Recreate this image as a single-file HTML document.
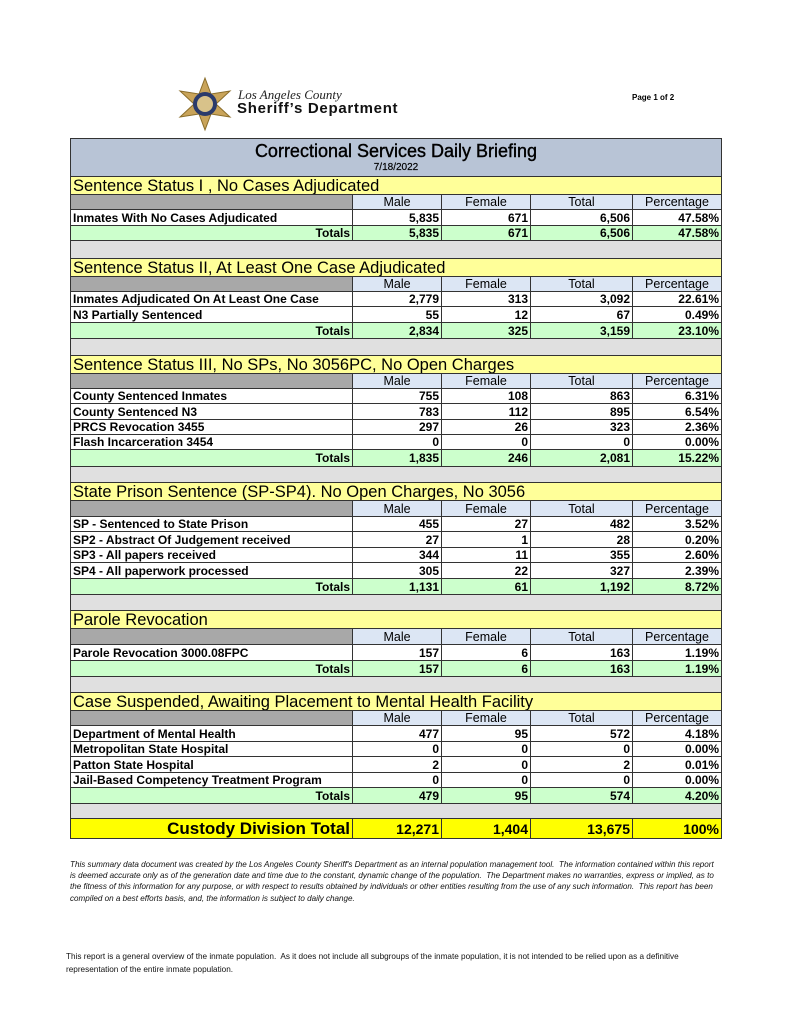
<!DOCTYPE html>
<html><head><meta charset="utf-8"><style>
body{margin:0;width:791px;height:1024px;background:#fff;position:relative;font-family:"Liberation Sans",Arial,sans-serif;overflow:hidden}
table{position:absolute;left:70px;top:138px;width:651px;border-collapse:collapse;table-layout:fixed}
td{border:1px solid #333;padding:0 2px;font-size:12px;font-weight:bold;line-height:12px;white-space:nowrap;overflow:hidden}
td.n{text-align:right}
tr.title td{background:#b8c4d6;text-align:center;font-weight:normal;vertical-align:top}
tr.sec td{background:#ffff99;font-size:16.5px;font-weight:normal;line-height:16px;border-bottom:none}
tr.hdr td{background:#dce6f4;text-align:center;font-weight:normal;font-size:12.5px}
tr.hdr td.g{background:#a8a8a8}
tr.tot td{background:#ccffcc;text-align:right}
tr.sp td{background:#e0e0e0}
tr.cust td{background:#ffff00;text-align:right;font-size:14px}
tr.cust td.big{font-size:17px}
</style></head><body>
<svg style="position:absolute;left:172px;top:76px" width="66" height="56" viewBox="0 0 66 56">
<polygon points="33,2 39,18 58,15 44,28 58,41 39,38 33,54 27,38 8,41 22,28 8,15 27,18" fill="#c9a45a" stroke="#8a6d2a"/>
<circle cx="33" cy="28" r="12" fill="#2b3b6b"/><circle cx="33" cy="28" r="8" fill="#d8c28a"/>
</svg>
<div style="position:absolute;left:238px;top:87px;font-family:'Liberation Serif',serif;font-style:italic;font-size:13px;color:#222">Los Angeles County</div>
<div style="position:absolute;left:237px;top:100px;font-weight:bold;font-size:15px;letter-spacing:0.7px;color:#111">Sheriff’s Department</div>
<div style="position:absolute;left:632px;top:93px;font-size:8px;font-weight:bold">Page 1 of 2</div>
<table>
<col style="width:282px"><col style="width:89px"><col style="width:89px"><col style="width:102px"><col style="width:89px">
<tr class="title" style="height:38px"><td colspan="5"><div style="font-size:18px;margin-top:2px;line-height:20px;-webkit-text-stroke:0.4px #000">Correctional Services Daily Briefing</div><div style="font-size:10px;line-height:13px;-webkit-text-stroke:0.2px #000">7/18/2022</div></td></tr>

<tr class="sec" style="height:18px"><td colspan="5">Sentence Status I , No Cases Adjudicated</td></tr>
<tr class="hdr" style="height:15px"><td class="g"></td><td>Male</td><td>Female</td><td>Total</td><td>Percentage</td></tr>
<tr style="height:16px"><td>Inmates With No Cases Adjudicated</td><td class="n">5,835</td><td class="n">671</td><td class="n">6,506</td><td class="n">47.58%</td></tr>
<tr class="tot" style="height:15px"><td>Totals</td><td>5,835</td><td>671</td><td>6,506</td><td>47.58%</td></tr>
<tr class="sp" style="height:18px"><td colspan="5"></td></tr>

<tr class="sec" style="height:18px"><td colspan="5">Sentence Status II, At Least One Case Adjudicated</td></tr>
<tr class="hdr" style="height:15px"><td class="g"></td><td>Male</td><td>Female</td><td>Total</td><td>Percentage</td></tr>
<tr style="height:15px"><td>Inmates Adjudicated On At Least One Case</td><td class="n">2,779</td><td class="n">313</td><td class="n">3,092</td><td class="n">22.61%</td></tr>
<tr style="height:16px"><td>N3 Partially Sentenced</td><td class="n">55</td><td class="n">12</td><td class="n">67</td><td class="n">0.49%</td></tr>
<tr class="tot" style="height:16px"><td>Totals</td><td>2,834</td><td>325</td><td>3,159</td><td>23.10%</td></tr>
<tr class="sp" style="height:17px"><td colspan="5"></td></tr>

<tr class="sec" style="height:18px"><td colspan="5">Sentence Status III, No SPs, No 3056PC, No Open Charges</td></tr>
<tr class="hdr" style="height:15px"><td class="g"></td><td>Male</td><td>Female</td><td>Total</td><td>Percentage</td></tr>
<tr style="height:15px"><td>County Sentenced Inmates</td><td class="n">755</td><td class="n">108</td><td class="n">863</td><td class="n">6.31%</td></tr>
<tr style="height:16px"><td>County Sentenced N3</td><td class="n">783</td><td class="n">112</td><td class="n">895</td><td class="n">6.54%</td></tr>
<tr style="height:15px"><td>PRCS Revocation 3455</td><td class="n">297</td><td class="n">26</td><td class="n">323</td><td class="n">2.36%</td></tr>
<tr style="height:15px"><td>Flash Incarceration 3454</td><td class="n">0</td><td class="n">0</td><td class="n">0</td><td class="n">0.00%</td></tr>
<tr class="tot" style="height:17px"><td>Totals</td><td>1,835</td><td>246</td><td>2,081</td><td>15.22%</td></tr>
<tr class="sp" style="height:16px"><td colspan="5"></td></tr>

<tr class="sec" style="height:18px"><td colspan="5">State Prison Sentence (SP-SP4). No Open Charges, No 3056</td></tr>
<tr class="hdr" style="height:16px"><td class="g"></td><td>Male</td><td>Female</td><td>Total</td><td>Percentage</td></tr>
<tr style="height:15px"><td>SP - Sentenced to State Prison</td><td class="n">455</td><td class="n">27</td><td class="n">482</td><td class="n">3.52%</td></tr>
<tr style="height:16px"><td>SP2 - Abstract Of Judgement received</td><td class="n">27</td><td class="n">1</td><td class="n">28</td><td class="n">0.20%</td></tr>
<tr style="height:15px"><td>SP3 - All papers received</td><td class="n">344</td><td class="n">11</td><td class="n">355</td><td class="n">2.60%</td></tr>
<tr style="height:16px"><td>SP4 - All paperwork processed</td><td class="n">305</td><td class="n">22</td><td class="n">327</td><td class="n">2.39%</td></tr>
<tr class="tot" style="height:16px"><td>Totals</td><td>1,131</td><td>61</td><td>1,192</td><td>8.72%</td></tr>
<tr class="sp" style="height:16px"><td colspan="5"></td></tr>

<tr class="sec" style="height:18px"><td colspan="5">Parole Revocation</td></tr>
<tr class="hdr" style="height:16px"><td class="g"></td><td>Male</td><td>Female</td><td>Total</td><td>Percentage</td></tr>
<tr style="height:16px"><td>Parole Revocation 3000.08FPC</td><td class="n">157</td><td class="n">6</td><td class="n">163</td><td class="n">1.19%</td></tr>
<tr class="tot" style="height:16px"><td>Totals</td><td>157</td><td>6</td><td>163</td><td>1.19%</td></tr>
<tr class="sp" style="height:16px"><td colspan="5"></td></tr>

<tr class="sec" style="height:18px"><td colspan="5">Case Suspended, Awaiting Placement to Mental Health Facility</td></tr>
<tr class="hdr" style="height:15px"><td class="g"></td><td>Male</td><td>Female</td><td>Total</td><td>Percentage</td></tr>
<tr style="height:16px"><td>Department of Mental Health</td><td class="n">477</td><td class="n">95</td><td class="n">572</td><td class="n">4.18%</td></tr>
<tr style="height:15px"><td>Metropolitan State Hospital</td><td class="n">0</td><td class="n">0</td><td class="n">0</td><td class="n">0.00%</td></tr>
<tr style="height:16px"><td>Patton State Hospital</td><td class="n">2</td><td class="n">0</td><td class="n">2</td><td class="n">0.01%</td></tr>
<tr style="height:15px"><td>Jail-Based Competency Treatment Program</td><td class="n">0</td><td class="n">0</td><td class="n">0</td><td class="n">0.00%</td></tr>
<tr class="tot" style="height:16px"><td>Totals</td><td>479</td><td>95</td><td>574</td><td>4.20%</td></tr>
<tr class="sp" style="height:15px"><td colspan="5"></td></tr>
<tr class="cust" style="height:20px"><td class="big">Custody Division Total</td><td>12,271</td><td>1,404</td><td>13,675</td><td>100%</td></tr>
</table>
<div style="position:absolute;left:70px;top:859px;width:650px;font-size:8.1px;font-style:italic;line-height:11.2px;color:#111">This summary data document was created by the Los Angeles County Sheriff's Department as an internal population management tool.&nbsp; The information contained within this report is deemed accurate only as of the generation date and time due to the constant, dynamic change of the population.&nbsp; The Department makes no warranties, express or implied, as to the fitness of this information for any purpose, or with respect to results obtained by individuals or other entities resulting from the use of any such information.&nbsp; This report has been compiled on a best efforts basis, and, the information is subject to daily change.</div>
<div style="position:absolute;left:66px;top:951px;width:660px;font-size:8.2px;line-height:12.5px;color:#111">This report is a general overview of the inmate population.&nbsp; As it does not include all subgroups of the inmate population, it is not intended to be relied upon as a definitive representation of the entire inmate population.</div>
</body></html>
